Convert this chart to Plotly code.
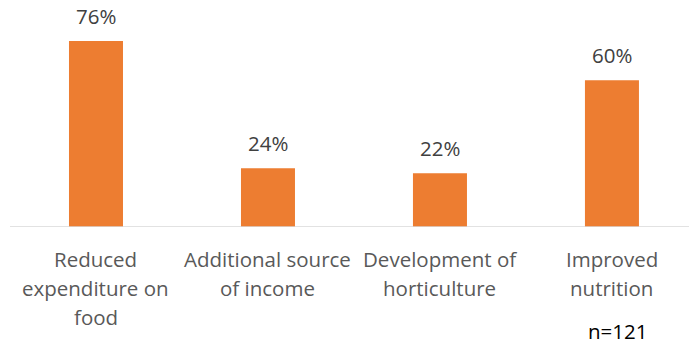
import plotly.graph_objects as go

categories = ["Reduced expenditure on food", "Additional source of income",
              "Development of horticulture", "Improved nutrition"]
label_lines = [["Reduced", "expenditure on", "food"],
               ["Additional source", "of income"],
               ["Development of", "horticulture"],
               ["Improved", "nutrition"]]
values = [76, 24, 22, 60]
sample_note = "n=121"

FONT = "Open Sans"
fig = go.Figure()
fig.add_trace(go.Bar(x=categories, y=values, width=0.314,
                     marker=dict(color="#ED7D31", line=dict(width=0)),
                     hoverinfo="skip"))

annotations = []
for c, v in zip(categories, values):
    annotations.append(dict(x=c, y=v, xref="x", yref="y", text=f"{v}%",
                            showarrow=False, yanchor="bottom", yshift=9,
                            font=dict(family=FONT, size=20.5, color="#404040")))
for c, lines in zip(categories, label_lines):
    for i, ln in enumerate(lines):
        annotations.append(dict(x=c, y=0, xref="x", yref="paper", text=ln,
                                showarrow=False, yanchor="middle",
                                yshift=-(32 + 29 * i),
                                font=dict(family=FONT, size=20.5, color="#595959")))
annotations.append(dict(x=categories[-1], y=0, xref="x", yref="paper",
                        text=sample_note, showarrow=False, yanchor="bottom",
                        xshift=6, yshift=-120,
                        font=dict(family=FONT, size=20.5, color="#000000")))

fig.update_layout(
    width=689, height=347,
    margin=dict(l=10, r=0, t=0, b=120),
    paper_bgcolor="white", plot_bgcolor="white",
    showlegend=False,
    annotations=annotations,
    xaxis=dict(range=[-0.5, 3.448], showticklabels=False, showgrid=False,
               zeroline=False, showline=False, fixedrange=True),
    yaxis=dict(range=[0, 92.8], visible=False, showgrid=False, zeroline=False),
    shapes=[dict(type="line", xref="paper", yref="y", x0=0, x1=1, y0=0, y1=0,
                 line=dict(color="#D9D9D9", width=1.5))],
)
fig.write_html("out.html")
